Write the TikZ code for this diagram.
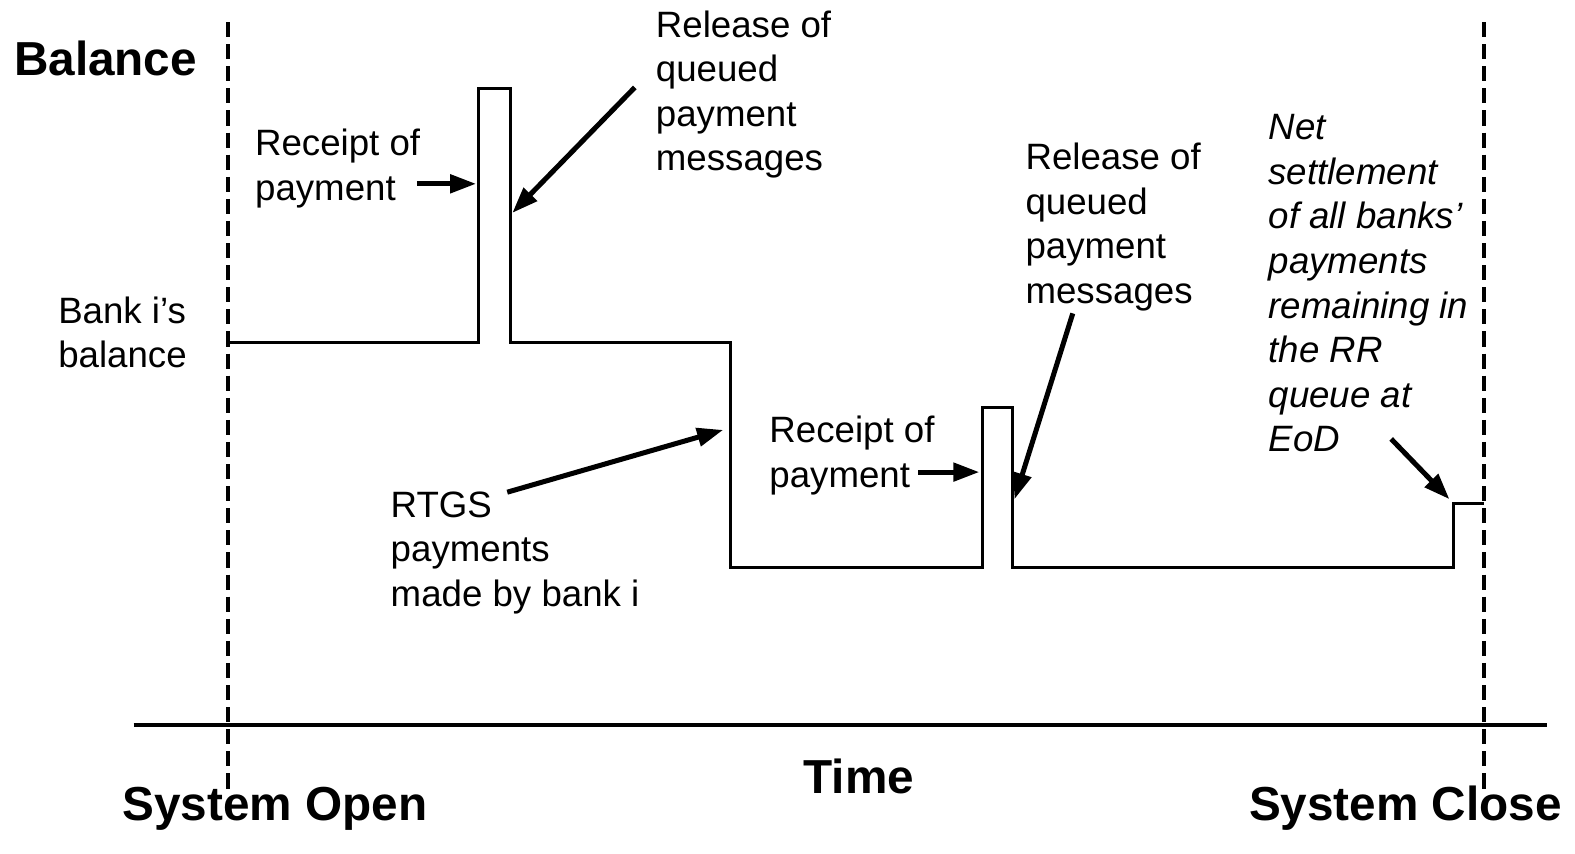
\documentclass[tikz,border=0pt]{standalone}
\usepackage{fontspec}
\setmainfont{Liberation Sans}
\usetikzlibrary{arrows.meta}
\begin{document}
\begin{tikzpicture}[x=1pt,y=-1pt,
  lbl/.style={inner sep=0pt,outer sep=0pt,align=left,anchor=base west,
    font=\fontsize{36.5}{44.4}\selectfont},
  big/.style={inner sep=0pt,outer sep=0pt,anchor=base west,
    font=\fontsize{47.5}{57}\selectfont\bfseries},
  bal/.style={line width=3.2pt,line join=miter},
  marker/.style={line width=3.8pt,dash pattern=on 15pt off 7pt},
  axis/.style={line width=3.5pt},
  ptr/.style={line width=5pt,-{Triangle[length=26pt,width=18pt]}}]
\useasboundingbox (0,0) rectangle (1568,850);

% vertical markers and time axis
\coordinate (openT) at (227,22);
\coordinate (openB) at (227,790);
\coordinate (closeT) at (1477,22);
\coordinate (closeB) at (1477,790);
\coordinate (axL) at (133,722);
\coordinate (axR) at (1540,722);
\draw[marker] (openT) -- (openB);
\draw[marker] (closeT) -- (closeB);
\draw[axis] (axL) -- (axR);

% balance path
\coordinate (b0) at (227,341);
\coordinate (s1a) at (476,341);
\coordinate (s1b) at (476,88);
\coordinate (s1c) at (508,88);
\coordinate (s1d) at (508,341);
\coordinate (d1) at (727,341);
\coordinate (d2) at (727,565);
\coordinate (s2a) at (978,565);
\coordinate (s2b) at (978,406);
\coordinate (s2c) at (1008,406);
\coordinate (s2d) at (1008,565);
\coordinate (e1) at (1447,565);
\coordinate (e2) at (1447,501);
\coordinate (e3) at (1477,501);
\draw[bal] (b0) -- (s1a) -- (s1b) -- (s1c) -- (s1d) -- (d1) -- (d2) -- (s2a) -- (s2b) -- (s2c) -- (s2d) -- (e1) -- (e2) -- (e3);

% labels (anchored at the baseline of their last line)
\node[big] (balance) at (14,75) {Balance};
\node[big,anchor=base] (time) at (855,790) {Time};
\node[big] (sopen) at (122,817) {System Open};
\node[big,anchor=base east] (sclose) at (1555,817) {System Close};

\node[lbl] (bank) at (58,366) {Bank i’s\\balance};
\node[lbl] (rec1) at (254,199.4) {Receipt of\\payment};
\node[lbl] (rel1) at (653,170.2) {Release of\\queued\\payment\\messages};
\node[lbl] (rtgs) at (389,603.8) {RTGS\\payments\\made by bank i};
\node[lbl] (rec2) at (766,485.4) {Receipt of\\payment};
\node[lbl] (rel2) at (1021,302.2) {Release of\\queued\\payment\\messages};
\node[lbl,font=\fontsize{36.5}{44.4}\selectfont\itshape] (net) at (1263,449.8) {Net\\settlement\\of all banks’\\payments\\remaining in\\the RR\\queue at\\EoD};

% pointers
\coordinate (p1s) at (415,183);
\coordinate (p1e) at (474,183);
\coordinate (p2s) at (632,87);
\coordinate (p2e) at (510,212);
\coordinate (p3s) at (505,490);
\coordinate (p3e) at (720,428);
\coordinate (p4s) at (914,470);
\coordinate (p4e) at (975,470);
\coordinate (p5s) at (1068,312);
\coordinate (p5e) at (1010,497);
\coordinate (p6s) at (1385,437);
\coordinate (p6e) at (1443,497);
\draw[ptr] (p1s) -- (p1e);
\draw[ptr] (p2s) -- (p2e);
\draw[ptr] (p3s) -- (p3e);
\draw[ptr] (p4s) -- (p4e);
\draw[ptr] (p5s) -- (p5e);
\draw[ptr] (p6s) -- (p6e);
\end{tikzpicture}
\end{document}
